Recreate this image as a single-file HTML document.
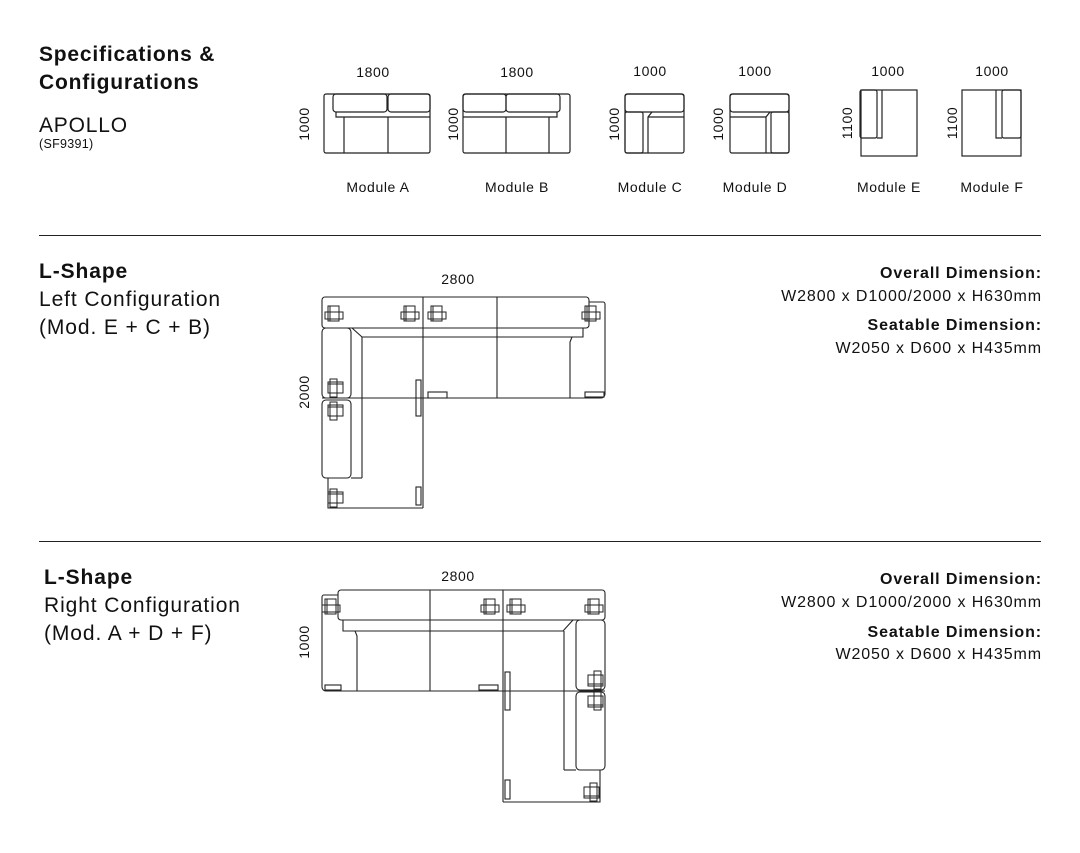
<!DOCTYPE html>
<html><head><meta charset="utf-8"><style>
html,body{margin:0;padding:0;background:#fff;}
svg{display:block;}
text{font-family:"Liberation Sans",Arial,sans-serif;fill:#111;}
</style></head><body>
<svg width="1080" height="853" viewBox="0 0 1080 853" xmlns="http://www.w3.org/2000/svg">
<defs>
<g id="ch" fill="none" stroke="#222" stroke-width="1">
<rect x="-6" y="-8" width="11" height="15"/><rect x="-9" y="-2" width="18" height="7"/><line x1="-4" y1="-8" x2="-4" y2="7"/>
</g>
</defs>
<!-- Header text -->
<g font-size="21" letter-spacing="0.8">
<text x="39" y="61" font-weight="bold">Specifications &amp;</text>
<text x="39" y="89" font-weight="bold">Configurations</text>
<text x="39" y="132">APOLLO</text>
</g>
<text x="39" y="148" font-size="12.5" letter-spacing="0.3">(SF9391)</text>

<g fill="none" stroke="#222" stroke-width="1.2">
<!-- Module A -->
<rect x="324" y="94" width="106" height="59" rx="2"/>
<rect x="333" y="94" width="54" height="18" rx="3"/><rect x="388" y="94" width="42" height="18" rx="3"/>
<polyline points="336,112 336,117 430,117"/>
<line x1="344" y1="117" x2="344" y2="153"/><line x1="388" y1="117" x2="388" y2="153"/>
<!-- Module B -->
<rect x="463" y="94" width="107" height="59" rx="2"/>
<rect x="463" y="94" width="43" height="18" rx="3"/><rect x="506" y="94" width="54" height="18" rx="3"/>
<polyline points="463,117 557,117 557,112"/>
<line x1="549" y1="117" x2="549" y2="153"/><line x1="506" y1="117" x2="506" y2="153"/>
<!-- Module C -->
<rect x="625" y="94" width="59" height="59" rx="2"/>
<rect x="625" y="94" width="59" height="18" rx="3"/>
<rect x="625" y="112" width="18" height="41" rx="2"/>
<polyline points="648,153 648,117 652,112"/><line x1="648" y1="117" x2="684" y2="117"/>
<!-- Module D -->
<rect x="730" y="94" width="59" height="59" rx="2"/>
<rect x="730" y="94" width="59" height="18" rx="3"/>
<rect x="771" y="112" width="18" height="41" rx="2"/>
<polyline points="766,153 766,117 770,112"/><line x1="730" y1="117" x2="766" y2="117"/>
<!-- Module E -->
<rect x="861" y="90" width="56" height="66"/>
<rect x="860" y="90" width="17" height="48" rx="2"/>
<polyline points="882,90 882,138 877,138"/>
<!-- Module F -->
<rect x="962" y="90" width="59" height="66"/>
<rect x="1002" y="90" width="19" height="48" rx="2"/>
<polyline points="996,90 996,138 1002,138"/>
</g>
<g font-size="14" text-anchor="middle" letter-spacing="0.6">
<text x="373" y="77">1800</text><text x="517" y="77">1800</text><text x="650" y="76">1000</text><text x="755" y="76">1000</text><text x="888" y="76">1000</text><text x="992" y="76">1000</text>
<text x="378" y="192">Module A</text><text x="517" y="192">Module B</text><text x="650" y="192">Module C</text><text x="755" y="192">Module D</text><text x="889" y="192">Module E</text><text x="992" y="192">Module F</text>
<text transform="translate(309,124) rotate(-90)">1000</text>
<text transform="translate(458,124) rotate(-90)">1000</text>
<text transform="translate(619,124) rotate(-90)">1000</text>
<text transform="translate(723,124) rotate(-90)">1000</text>
<text transform="translate(852,123) rotate(-90)">1100</text>
<text transform="translate(957,123) rotate(-90)">1100</text>
</g>

<line x1="39" y1="235.5" x2="1041" y2="235.5" stroke="#222" stroke-width="1"/>
<line x1="39" y1="541.5" x2="1041" y2="541.5" stroke="#222" stroke-width="1"/>

<!-- Section 2 text -->
<g font-size="21" letter-spacing="0.9">
<text x="39" y="278" font-weight="bold">L-Shape</text>
<text x="39" y="306">Left Configuration</text>
<text x="39" y="334">(Mod. E + C + B)</text>
<text x="44" y="584" font-weight="bold">L-Shape</text>
<text x="44" y="612">Right Configuration</text>
<text x="44" y="640">(Mod. A + D + F)</text>
</g>
<g text-anchor="end" font-size="16" letter-spacing="0.9">
<text x="1042" y="278" font-weight="bold">Overall Dimension:</text>
<text x="1042" y="301">W2800 x D1000/2000 x H630mm</text>
<text x="1042" y="330" font-weight="bold">Seatable Dimension:</text>
<text x="1042" y="353">W2050 x D600 x H435mm</text>
<text x="1042" y="584" font-weight="bold">Overall Dimension:</text>
<text x="1042" y="607">W2800 x D1000/2000 x H630mm</text>
<text x="1042" y="637" font-weight="bold">Seatable Dimension:</text>
<text x="1042" y="659">W2050 x D600 x H435mm</text>
</g>

<g font-size="14" text-anchor="middle" letter-spacing="0.6">
<text x="458" y="284">2800</text>
<text transform="translate(309,392) rotate(-90)">2000</text>
<text x="458" y="581">2800</text>
<text transform="translate(309,642) rotate(-90)">1000</text>
</g>

<!-- Left L-shape -->
<g fill="none" stroke="#222" stroke-width="1.1">
<rect x="322" y="297" width="267" height="31" rx="3"/>
<line x1="423" y1="297" x2="423" y2="508"/><line x1="497" y1="297" x2="497" y2="398"/>
<path d="M589,302 H603 a2,2 0 0 1 2,2 V394 a4,4 0 0 1 -4,4 H322"/>
<polyline points="352,328 362,337 583,337 583,328"/>
<polyline points="572,337 570,342 570,398"/>
<line x1="362" y1="337" x2="362" y2="478"/>
<rect x="322" y="328" width="29" height="70" rx="4"/>
<rect x="322" y="400" width="29" height="78" rx="4"/>
<polyline points="351,478 362,478"/>
<polyline points="328,478 328,508 423,508"/>
<rect x="416" y="380" width="5" height="36"/>
<rect x="428" y="392" width="19" height="6"/>
<rect x="585" y="392" width="19" height="5"/>
<rect x="416" y="487" width="5" height="18"/>
</g>
<use href="#ch" x="334" y="314"/><use href="#ch" x="410" y="314"/><use href="#ch" x="437" y="314"/><use href="#ch" x="591" y="314"/>
<use href="#ch" transform="translate(335,388) rotate(90)"/><use href="#ch" transform="translate(335,411) rotate(90)"/><use href="#ch" transform="translate(335,498) rotate(90)"/>

<!-- Right L-shape -->
<g fill="none" stroke="#222" stroke-width="1.1">
<rect x="338" y="590" width="267" height="30" rx="3"/>
<line x1="430" y1="590" x2="430" y2="691"/><line x1="503" y1="590" x2="503" y2="802"/>
<path d="M338,595 H324 a2,2 0 0 0 -2,2 V687 a4,4 0 0 0 4,4 H605"/>
<polyline points="343,620 343,631 563,631 573,620"/>
<polyline points="355,631 357,636 357,691"/>
<line x1="564" y1="631" x2="564" y2="770"/>
<rect x="576" y="620" width="29" height="70" rx="4"/>
<rect x="576" y="692" width="29" height="78" rx="4"/>
<polyline points="564,770 576,770"/>
<polyline points="600,770 600,802 503,802"/>
<rect x="505" y="672" width="5" height="38"/>
<rect x="325" y="685" width="16" height="5"/>
<rect x="479" y="685" width="19" height="5"/>
<rect x="505" y="780" width="5" height="19"/>
</g>
<use href="#ch" x="331" y="607"/><use href="#ch" x="490" y="607"/><use href="#ch" x="516" y="607"/><use href="#ch" x="594" y="607"/>
<use href="#ch" transform="translate(596,680) rotate(-90)"/><use href="#ch" transform="translate(596,701) rotate(-90)"/><use href="#ch" transform="translate(592,792) rotate(-90)"/>
</svg>
</body></html>
